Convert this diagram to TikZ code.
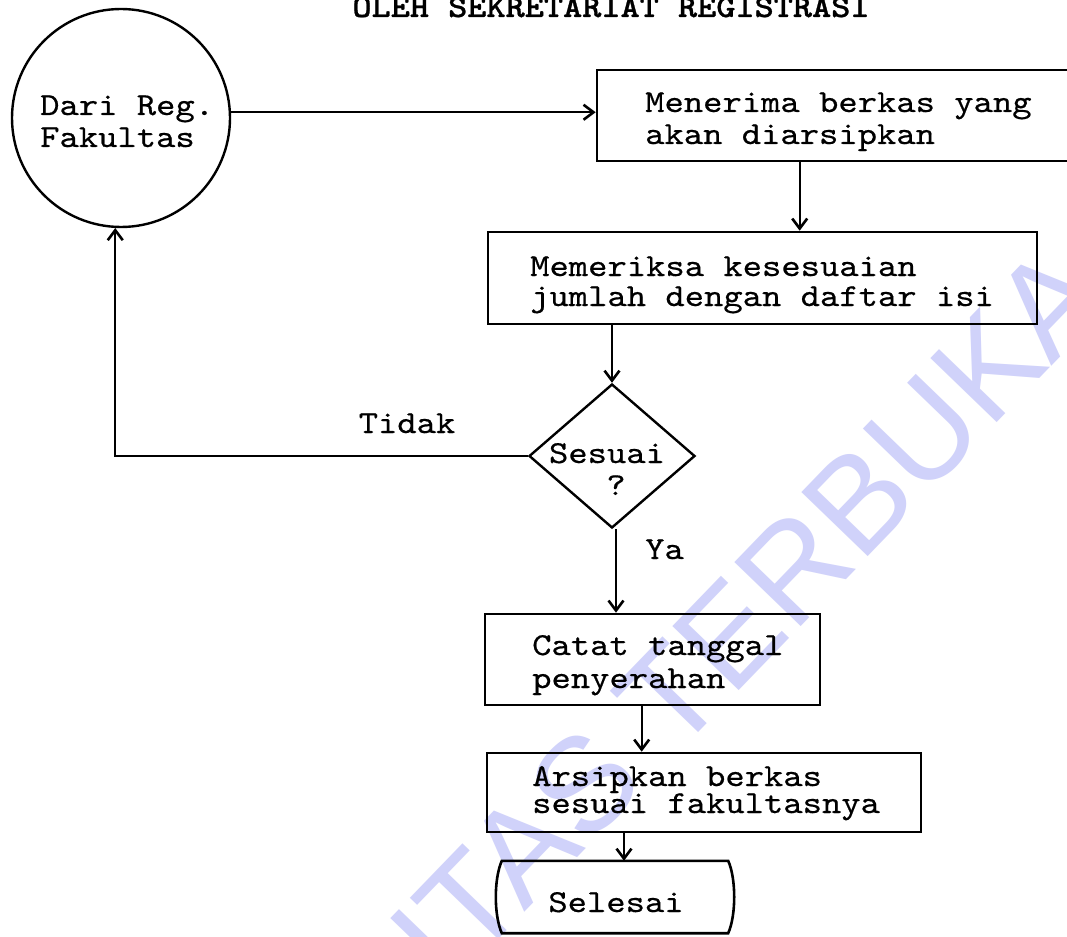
\documentclass[tikz,border=0pt]{standalone}
\usepackage{fontspec}
\usetikzlibrary{arrows.meta,shapes.geometric}
\newfontfamily\typew{lmmono10-regular.otf}[FakeStretch=1.15,FakeBold=0.5]
\newfontfamily\typewbold{lmmonolt10-bold.otf}[FakeStretch=1.14,FakeBold=0.8]
\newfontfamily\wmfont{Liberation Sans}
\definecolor{wmblue}{RGB}{208,210,250}
\tikzset{
  tl/.style={anchor=base west, inner sep=0pt, font=\fontsize{32}{32}\typew},
  tc/.style={anchor=base, inner sep=0pt, font=\fontsize{32}{32}\typew},
  boxnode/.style={draw, rectangle, inner sep=0pt, line width=2.6pt},
  arr/.style={line width=2.2pt, -{Straight Barb[length=10pt,width=15pt,line width=2.6pt]}},
}
\begin{document}
\begin{tikzpicture}[x=1pt,y=-1pt]
\useasboundingbox (0,0) rectangle (1067,936);
\fill[white] (0,0) rectangle (1067,936);
% watermark
\begin{scope}
\clip (0,0) rectangle (1067,936);
\node[anchor=base east, rotate=46, inner sep=0pt, text=wmblue,
      font=\fontsize{134}{134}\wmfont] (wm) at (1114,302) {UNIVERSITAS TERBUKA};
\end{scope}
% title
\node[anchor=base, inner sep=0pt, font=\fontsize{32}{32}\typewbold] (title) at (611,17) {OLEH SEKRETARIAT REGISTRASI};
% start circle
\node[draw, circle, minimum size=218pt, inner sep=0pt, line width=2.4pt] (src) at (121,118) {};
\node[tl] (srcA) at (40,115) {Dari Reg.};
\node[tl] (srcB) at (40,147) {Fakultas};
% boxes
\node[boxnode, minimum width=483pt, minimum height=91pt] (b1) at (838.5,115.5) {};
\node[tl] (b1a) at (645,112) {Menerima berkas yang};
\node[tl] (b1b) at (645,144) {akan diarsipkan};
\node[boxnode, minimum width=549pt, minimum height=92pt] (b2) at (762.5,278) {};
\node[tl] (b2a) at (530,276) {Memeriksa kesesuaian};
\node[tl] (b2b) at (530,306) {jumlah dengan daftar isi};
\node[draw, diamond, minimum width=166pt, minimum height=144pt, inner sep=0pt, line width=2.4pt] (dia) at (612,456) {};
\node[tc] (diaA) at (607,463) {Sesuai};
\node[tc] (diaB) at (616,495) {?};
\node[boxnode, minimum width=335pt, minimum height=91pt] (b3) at (652.5,659.5) {};
\node[tl] (b3a) at (532,655) {Catat tanggal};
\node[tl] (b3b) at (532,688) {penyerahan};
\node[boxnode, minimum width=434pt, minimum height=79pt] (b4) at (704,792.5) {};
\node[tl] (b4a) at (532,786) {Arsipkan berkas};
\node[tl] (b4b) at (532,813) {sesuai fakultasnya};
% terminator
\node[minimum width=226pt, minimum height=72pt, inner sep=0pt] (term) at (615,897) {};
\draw[line width=2.6pt] (term.north west) -- (term.north east)
  .. controls +(8,18) and +(8,-18) .. (term.south east)
  -- (term.south west)
  .. controls +(-8,-18) and +(-8,18) .. cycle;
\node[tc] (termtxt) at (616,912) {Selesai};
% connectors
\draw[arr] (src.3) -- (src.3 -| b1.west);
\draw[arr] ([xshift=204pt]b1.south west) -- ([xshift=204pt]b1.south west |- b2.north);
\draw[arr] (b2.south -| dia.north) -- (dia.north);
\draw[arr] (dia.west) -- (dia.west -| src.267) -- (src.267);
\node[tc] (tidak) at (407,433) {Tidak};
\draw[arr] ([xshift=4pt]dia.south) -- ([xshift=4pt]dia.south |- b3.north);
\node[tl] (ya) at (645,559) {Ya};
\draw[arr] ([xshift=158pt]b3.south west) -- ([xshift=158pt]b3.south west |- b4.north);
\draw[arr] ([xshift=9pt]term.north |- b4.south) -- ([xshift=9pt]term.north);
\end{tikzpicture}
\end{document}
